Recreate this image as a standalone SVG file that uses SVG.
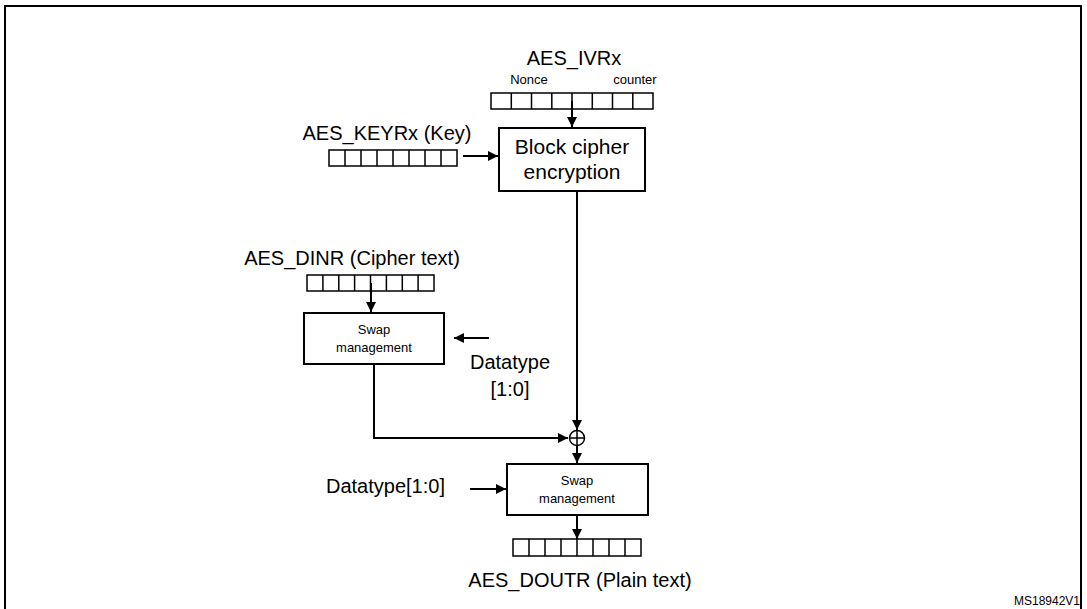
<svg xmlns="http://www.w3.org/2000/svg" width="1087" height="609" viewBox="0 0 1087 609">
<style>
text{font-family:"Liberation Sans",Arial,sans-serif;fill:#000;text-anchor:middle}
.b{fill:#fff;stroke:#000;stroke-width:2}
.l{fill:none;stroke:#000;stroke-width:2}
.c{fill:none;stroke:#000;stroke-width:1.5}
.r{fill:#fff;stroke:#000;stroke-width:1.5}
</style>
<defs>
<marker id="a" viewBox="0 0 10 10" refX="10" refY="5" markerWidth="5" markerHeight="5" orient="auto"><path d="M0,0L10,5L0,10z" fill="#000"/></marker>
</defs>
<rect x="0" y="0" width="1087" height="609" fill="#fff"/>
<rect x="5" y="6" width="1076" height="610" fill="none" stroke="#000" stroke-width="2"/>
<g id="ivr">
<text x="574" y="65" font-size="20">AES_IVRx</text>
<text x="529" y="84" font-size="13">Nonce</text>
<text x="635" y="84" font-size="13">counter</text>
<rect class="r" x="491" y="93" width="162" height="16"/>
<path class="c" d="M511.3,93v16M531.5,93v16M551.8,93v16M572,93v16M592.3,93v16M612.5,93v16M632.8,93v16"/>
</g>
<g id="cipher">
<rect class="b" x="499" y="128" width="146" height="63"/>
<text x="572" y="154" font-size="21">Block cipher</text>
<text x="572" y="179" font-size="21">encryption</text>
</g>
<g id="key">
<text x="387" y="140" font-size="20">AES_KEYRx (Key)</text>
<rect class="r" x="329" y="150" width="128" height="16"/>
<path class="c" d="M345,150v16M361,150v16M377,150v16M393,150v16M409,150v16M425,150v16M441,150v16"/>
</g>
<g id="dinr">
<text x="352" y="265" font-size="20">AES_DINR (Cipher text)</text>
<rect class="r" x="307" y="275" width="127" height="16"/>
<path class="c" d="M322.9,275v16M338.8,275v16M354.6,275v16M370.5,275v16M386.4,275v16M402.3,275v16M418.1,275v16"/>
</g>
<g id="swap1">
<rect class="b" x="304" y="313" width="140" height="51"/>
<text x="374" y="334" font-size="13">Swap</text>
<text x="374" y="352" font-size="13">management</text>
</g>
<g id="dt1">
<text x="510" y="369" font-size="20">Datatype</text>
<text x="510" y="396" font-size="20">[1:0]</text>
</g>
<g id="xor">
<circle cx="577" cy="438" r="7.5" fill="#fff" stroke="#000" stroke-width="1.5"/>
<path class="c" d="M569.5,438h15M577,430.5v15"/>
</g>
<g id="swap2">
<rect class="b" x="507" y="464" width="141" height="51"/>
<text x="577" y="485" font-size="13">Swap</text>
<text x="577" y="503" font-size="13">management</text>
</g>
<g id="dt2"><text x="326" y="493" font-size="20" style="text-anchor:start">Datatype[1:0]</text></g>
<g id="doutr">
<rect class="r" x="513" y="539" width="128" height="17"/>
<path class="c" d="M529,539v17M545,539v17M561,539v17M577,539v17M593,539v17M609,539v17M625,539v17"/>
<text x="580" y="587" font-size="20">AES_DOUTR (Plain text)</text>
</g>
<text x="1080" y="605" font-size="12" style="text-anchor:end">MS18942V1</text>
<g id="connectors">
<path class="l" marker-end="url(#a)" d="M572,101V127"/>
<path class="l" marker-end="url(#a)" d="M463,156H498"/>
<path class="l" marker-end="url(#a)" d="M577,191V430"/>
<path class="l" marker-end="url(#a)" d="M371,283V312"/>
<path class="l" marker-end="url(#a)" d="M489,338H454"/>
<path class="l" marker-end="url(#a)" d="M374,364V438H568"/>
<path class="l" marker-end="url(#a)" d="M577,446V463"/>
<path class="l" marker-end="url(#a)" d="M470,489H506"/>
<path class="l" marker-end="url(#a)" d="M577,515V539"/>
</g>
</svg>
